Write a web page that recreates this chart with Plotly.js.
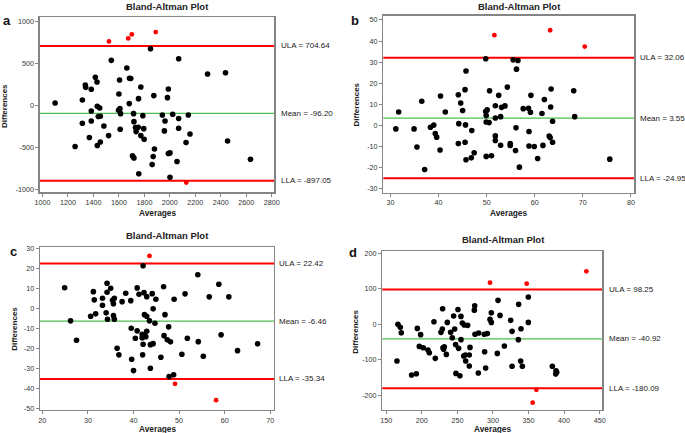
<!DOCTYPE html>
<html><head><meta charset="utf-8">
<script src="https://cdn.plot.ly/plotly-3.0.1.min.js"></script>
<style>html,body{margin:0;padding:0;background:#fff}#chart{width:685px;height:433px}</style>
</head><body><div id="chart"></div>
<script>
// ---------- data ----------
const panelLetters = ['a', 'b', 'c', 'd'];
const chartTitle = 'Bland-Altman Plot';
const xTitle = 'Averages';
const yTitle = 'Differences';

const aAvg = [1099,1848,1540,2069,2296,2437,1662,1415,1428,1336,1339,1383,1605,1683,1693,1772,1988,1600,1874,1754,1981,1313,1681,1383,1430,1449,1597,1608,1613,1715,1788,1941,2022,2145,2069,1438,1454,1383,1313,1482,1718,1962,1610,1751,1730,1735,1795,2069,1957,2158,1368,1519,1772,1798,1256,1430,1454,2127,2453,1879,1707,1718,1869,1988,2001,2056,1861,2633,1756,2001,1522,1673,1701,1889,2129];
const aDiff = [28,672,534,553,372,387,443,332,277,241,213,190,300,320,318,217,194,134,115,79,91,63,20,-67,-12,-32,-59,-40,-99,-99,-123,-115,-107,-115,-158,-134,-130,-186,-213,-245,-194,-186,-285,-261,-265,-312,-277,-273,-304,-340,-383,-360,-360,-403,-490,-478,-435,-443,-423,-518,-601,-625,-609,-573,-565,-668,-704,-640,-814,-854,759,794,842,870,-917];

const bAvg = [31.1,31.7,34.9,35.5,36.5,37.1,38.3,39.0,39.3,39.6,40.4,40.3,41.4,44.1,44.6,45.0,44.2,44.1,45.5,45.7,45.6,45.5,45.7,46.8,46.9,47.4,49.8,49.8,49.9,50.1,49.9,50.5,50.6,49.9,51.0,51.8,51.8,51.8,51.8,52.5,52.9,53.1,53.8,54.3,54.9,54.9,52.9,55.5,56.5,56.2,56.1,56.0,56.8,57.6,58.7,59.1,59.2,58.8,58.8,59.9,60.6,61.5,62.0,61.7,63.4,63.3,63.0,63.2,63.7,63.7,68.1,68.3,75.6,51.6,63.2,70.4];
const bDiff = [-1.6,6.4,-1.6,-10.2,11.5,-20.8,-0.8,0.2,-3.8,-5.5,14.0,-11.6,6.4,14.6,10.7,7.1,0.9,-8.5,17.0,25.8,0.3,-7.9,-16.2,-15.3,-2.4,-12.9,31.6,6.6,4.7,7.4,1.7,1.4,16.5,-14.6,-14.3,9.4,3.6,-4.9,-7.1,14.3,4.2,8.6,9.3,18.2,-8.5,-9.4,-9.3,31.1,30.8,26.7,-1.1,-11.8,-19.7,8.0,8.2,6.3,14.3,-2.8,-9.7,-9.9,-15.6,5.7,12.3,-9.4,17.3,8.8,-5.0,-5.7,2.0,-7.9,16.5,4.2,-15.9,42.8,45.1,37.4];

const cAvg = [24.9,26.2,27.5,30.6,31.2,31.4,31.7,33.2,33.2,34.2,34.2,34.0,34.3,35.0,35.4,35.6,35.8,35.6,35.8,37.5,38.3,39.4,39.5,36.4,36.8,39.6,40.0,40.4,40.8,40.8,41.2,41.9,41.9,42.1,42.0,42.1,42.3,42.4,42.9,42.9,42.9,42.4,42.7,43.5,43.7,43.7,44.1,44.3,44.3,44.7,44.9,46.0,46.6,46.7,46.9,47.4,47.7,48.1,47.8,48.8,48.9,50.6,51.3,51.8,54.1,54.2,55.3,56.6,58.7,59.2,60.9,62.8,67.2,43.5,49.1,58.1];
const cDiff = [10.3,-6.3,-16,-4,8.3,4.2,-2.8,5,1.5,12.5,8,-2.3,-5.5,10,4,2.3,5,-3.7,-5.5,3.3,7.5,3.8,-10,-20,-23.3,-25.5,-31.2,-15,10.2,-11.3,7,-13,-14.7,-18,-23.3,21.3,7.8,-3.2,5.8,-4,-11.5,-13.3,-14.2,-6.3,-18.2,-30,7.3,-0.3,-17.7,-7.5,4.5,-24.5,10.8,-13.7,-3.2,-15.8,-9.3,-16.8,-34.2,-33.3,4.5,-23,7.2,-15,16.8,-16.7,-24,5.7,12,-13.3,5.7,-21.2,-17.8,26.2,-37.8,-46];

const dAvg = [166.4,169.7,171.1,165.0,193.6,198.3,196.4,202.0,208.6,210.5,185.6,192.2,218.9,217.0,226.9,228.8,229.2,235.8,229.7,230.6,231.6,234.4,240.5,242.8,246.1,244.7,250.8,255.0,247.5,251.7,256.9,259.7,264.4,255.0,258.8,261.1,261.6,266.7,266.7,267.7,247.9,253.5,273.8,274.3,274.7,279.9,279.4,287.8,292.1,288.3,289.7,295.8,297.7,297.7,307.1,309.9,306.1,316.0,324.9,326.8,326.8,336.1,335.7,339.4,338.9,341.3,349.7,349.7,383.5,388.6,388.2,389.6,295.8,347.4,431.3,361.0,355.8];
const dDiff = [0,-8.4,-23.5,-103,-11.3,-29,-62,-65.7,-72,-80,-142.6,-139,-95.7,7.5,-22.5,-13,44,5.6,-65.7,-70,-63,-84.5,-22.5,-37.5,-13,23.5,42,22.5,-57,-67.5,3.8,-1.9,-2.8,-43,-89,-86,-103,-117,-86,-64.8,-138,-144.5,40,52.6,-28,-24.4,-137,-28,-26,-77,-123,14,5.6,32.8,67.6,25.3,-81.7,-61,11.3,-19.7,-118,56.3,-43,-12.2,-103,-118,77,5.6,-118,-130.5,-140,-135,117.3,114.5,149.2,-184,-220.5];

const ulaValues  = [704.64, 32.06, 22.42, 98.25];
const meanValues = [-96.20, 3.55, -6.46, -40.92];
const llaValues  = [-897.05, -24.95, -35.34, -180.09];
const ulaLabels  = ['ULA = 704.64', 'ULA = 32.06', 'ULA = 22.42', 'ULA = 98.25'];
const meanLabels = ['Mean = -96.20', 'Mean = 3.55', 'Mean = -6.46', 'Mean = -40.92'];
const llaLabels  = ['LLA = -897.05', 'LLA = -24.95', 'LLA = -35.34', 'LLA = -180.09'];

const aXTicks = [1000,1200,1400,1600,1800,2000,2200,2400,2600,2800];
const aXText  = ['1000','1200','1400','1600','1800','2000','2200','2400','2600','2800'];
const aYTicks = [-1000,-500,0,500,1000];
const aYText  = ['-1000','-500','0','500','1000'];
const bXTicks = [30,40,50,60,70,80];
const bXText  = ['30','40','50','60','70','80'];
const bYTicks = [-30,-20,-10,0,10,20,30,40,50];
const bYText  = ['-30','-20','-10','0','10','20','30','40','50'];
const cXTicks = [20,30,40,50,60,70];
const cXText  = ['20','30','40','50','60','70'];
const cYTicks = [-50,-40,-30,-20,-10,0,10,20,30];
const cYText  = ['-50','-40','-30','-20','-10','0','10','20','30'];
const dXTicks = [150,200,250,300,350,400,450];
const dXText  = ['150','200','250','300','350','400','450'];
const dYTicks = [-200,-100,0,100,200];
const dYText  = ['-200','-100','0','100','200'];

// ---------- layout geometry (pixels) ----------
const W = 685, H = 433;
const FONT = 'Liberation Sans, Arial, sans-serif';
const px = v => v / W;
const py = v => 1 - v / H;

const panels = [
  {avg: aAvg, diff: aDiff, xt: aXTicks, xl: aXText, yt: aYTicks, yl: aYText,
   box: [39.7, 274.3, 17.3, 192.3], xr: [978, 2820], yr: [-1033, 1045],
   title: [167.5, 6], letter: [7, 21], xtitle: 212.5, ytitle: [4.5, 106.5], lab: 279},
  {avg: bAvg, diff: bDiff, xt: bXTicks, xl: bXText, yt: bYTicks, yl: bYText,
   box: [383.3, 634.3, 15.7, 192.5], xr: [28.5, 80.7], yr: [-31.7, 52],
   title: [519, 6], letter: [355, 20], xtitle: 212.5, ytitle: [356, 104.5], lab: 637.7},
  {avg: cAvg, diff: cDiff, xt: cXTicks, xl: cXText, yt: cYTicks, yl: cYText,
   box: [40, 274, 247.3, 410], xr: [19.5, 70.8], yr: [-50.9, 30.5],
   title: [167.5, 235], letter: [13, 251.5], xtitle: 428.5, ytitle: [13.8, 329], lab: 276.7},
  {avg: dAvg, diff: dDiff, xt: dXTicks, xl: dXText, yt: dYTicks, yl: dYText,
   box: [382.3, 602.3, 251, 410], xr: [144.4, 453.7], yr: [-241, 206.5],
   title: [504, 239.3], letter: [353, 252], xtitle: 428.5, ytitle: [354.7, 332], lab: 606.7}
];

const traces = [];
const layout = {
  width: W, height: H,
  margin: {l: 0, r: 0, t: 0, b: 0},
  paper_bgcolor: '#fff', plot_bgcolor: '#fff',
  showlegend: false,
  font: {family: FONT, size: 8, color: '#222'},
  shapes: [], annotations: []
};

panels.forEach((p, i) => {
  const s = i === 0 ? '' : String(i + 1);
  const colors = p.diff.map(d => (d > ulaValues[i] || d < llaValues[i]) ? '#ff0000' : '#000000');
  const sizes = colors.map(c => c === '#ff0000' ? 4.8 : 5.6);
  traces.push({
    type: 'scatter', mode: 'markers', x: p.avg, y: p.diff,
    xaxis: 'x' + s, yaxis: 'y' + s,
    marker: {color: colors, size: sizes, opacity: 1, line: {width: 0}},
    hoverinfo: 'x+y'
  });
  const axCommon = {
    showgrid: false, zeroline: false, showline: true, mirror: true,
    linecolor: '#858585', linewidth: 1.3,
    ticks: 'outside', ticklen: 3, tickwidth: 1, tickcolor: '#858585',
    tickfont: {family: FONT, size: 7.2, color: '#333'}, tickmode: 'array'
  };
  layout['xaxis' + s] = Object.assign({}, axCommon, {
    domain: [px(p.box[0]), px(p.box[1])], range: p.xr, anchor: 'y' + s,
    tickvals: p.xt, ticktext: p.xl
  });
  layout['yaxis' + s] = Object.assign({}, axCommon, {
    domain: [py(p.box[3]), py(p.box[2])], range: p.yr, anchor: 'x' + s,
    tickvals: p.yt, ticktext: p.yl
  });
  [[ulaValues[i], '#ff0000', 2], [llaValues[i], '#ff0000', 2], [meanValues[i], '#4cbf4c', 1.3]].forEach(([v, c, w]) => {
    layout.shapes.push({type: 'line', xref: 'x' + s + ' domain', yref: 'y' + s,
      x0: 0, x1: 1, y0: v, y1: v, line: {color: c, width: w}, layer: 'below'});
  });
  [[ulaValues[i], ulaLabels[i]], [meanValues[i], meanLabels[i]], [llaValues[i], llaLabels[i]]].forEach(([v, t]) => {
    layout.annotations.push({xref: 'paper', yref: 'y' + s, x: px(p.lab), y: v,
      xanchor: 'left', yanchor: 'middle', text: t, showarrow: false,
      font: {family: FONT, size: 8, color: '#222'}});
  });
  layout.annotations.push({xref: 'paper', yref: 'paper', x: px(p.title[0]), y: py(p.title[1]),
    xanchor: 'center', yanchor: 'middle', text: '<b>' + chartTitle + '</b>', showarrow: false,
    font: {family: FONT, size: 9.5, color: '#222'}});
  layout.annotations.push({xref: 'paper', yref: 'paper', x: px(p.letter[0]), y: py(p.letter[1]),
    xanchor: 'center', yanchor: 'middle', text: '<b>' + panelLetters[i] + '</b>', showarrow: false,
    font: {family: FONT, size: 13, color: '#111'}});
  layout.annotations.push({xref: 'paper', yref: 'paper', x: px((p.box[0] + p.box[1]) / 2), y: py(p.xtitle),
    xanchor: 'center', yanchor: 'middle', text: '<b>' + xTitle + '</b>', showarrow: false,
    font: {family: FONT, size: 8.3, color: '#222'}});
  layout.annotations.push({xref: 'paper', yref: 'paper', x: px(p.ytitle[0]), y: py(p.ytitle[1]),
    xanchor: 'center', yanchor: 'middle', text: '<b>' + yTitle + '</b>', showarrow: false, textangle: -90,
    font: {family: FONT, size: 8, color: '#222'}});
});

Plotly.newPlot('chart', traces, layout, {displayModeBar: false, staticPlot: true});
</script>
</body></html>
